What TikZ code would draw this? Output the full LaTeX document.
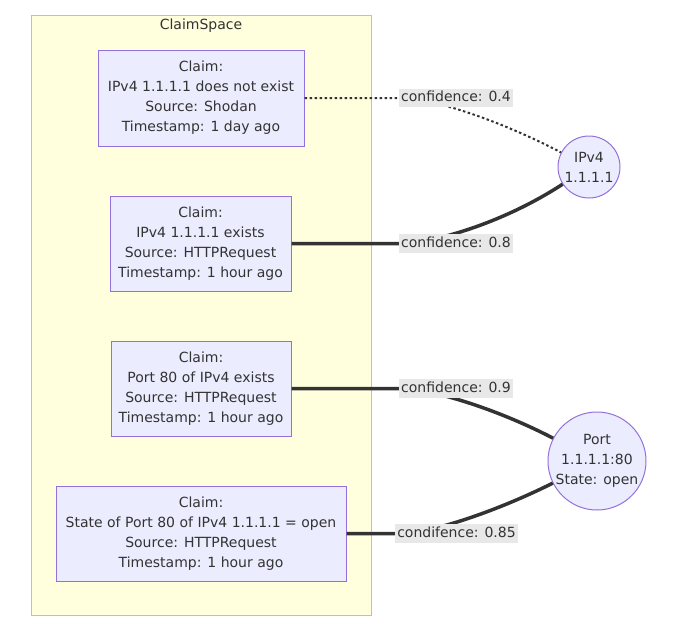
\documentclass[tikz,border=0pt]{standalone}
\usepackage{fontspec}
\setmainfont{DejaVu Sans}
\definecolor{boxfill}{HTML}{ECECFF}
\definecolor{boxline}{HTML}{9370DB}
\definecolor{clfill}{HTML}{FFFFDE}
\definecolor{clline}{HTML}{C8C87A}
\definecolor{lblbg}{HTML}{E8E8E8}
\definecolor{ink}{HTML}{333333}
\tikzset{
  claimbox/.style={draw=boxline, fill=boxfill, line width=1pt, align=center, text=ink, inner sep=0pt},
  entity/.style={circle, draw=boxline, fill=boxfill, line width=1pt, align=center, text=ink, inner sep=0pt},
  cluster/.style={draw=clline, fill=clfill, line width=1pt, inner sep=0pt},
  elabel/.style={fill=lblbg, text=ink, inner xsep=2pt, inner ysep=2.5pt, text height=10.5pt, text depth=3pt},
  solidedge/.style={draw=ink, line width=3.5pt},
  dottededge/.style={draw=ink, line width=2pt, dash pattern=on 2.5pt off 2.5pt}
}
\begin{document}
\begin{tikzpicture}[x=1pt,y=-1pt,font=\fontsize{14}{20}\selectfont]
\useasboundingbox (0,0) rectangle (678,640);
\node[cluster, minimum width=340pt, minimum height=600pt] (cs) at (201,315) {};
\node[text=ink] (cstitle) at (201,26) {ClaimSpace};

\node[claimbox, minimum width=206pt, minimum height=96pt] (c1) at (201,98) {Claim:\\IPv4 1.1.1.1 does not exist\\Source: Shodan\\Timestamp: 1 day ago};
\node[claimbox, minimum width=181pt, minimum height=95pt] (c2) at (200.5,243.5) {Claim:\\IPv4 1.1.1.1 exists\\Source: HTTPRequest\\Timestamp: 1 hour ago};
\node[claimbox, minimum width=180pt, minimum height=95pt] (c3) at (201,388.5) {Claim:\\Port 80 of IPv4 exists\\Source: HTTPRequest\\Timestamp: 1 hour ago};
\node[claimbox, minimum width=290pt, minimum height=95pt] (c4) at (201,533.5) {Claim:\\State of Port 80 of IPv4 1.1.1.1 = open\\Source: HTTPRequest\\Timestamp: 1 hour ago};

\node[entity, minimum size=62pt] (ip) at (589,167) {IPv4\\1.1.1.1};
\node[entity, minimum size=98pt] (port) at (597,461) {Port\\1.1.1.1:80\\State: open};

\coordinate (k1) at (400,98);
\coordinate (k2) at (400,243.5);
\coordinate (k3) at (400,388.5);
\coordinate (k4) at (400,533.5);

\draw[dottededge] (c1.east) -- (k1) .. controls (430,98) and (495,118) .. (ip);
\draw[solidedge] (c2.east) -- (k2) .. controls (430,243.5) and (500,225) .. (ip);
\draw[solidedge] (c3.east) -- (k3) .. controls (430,388.5) and (495,408) .. (port);
\draw[solidedge] (c4.east) -- (k4) .. controls (430,533.5) and (495,512) .. (port);

\node[elabel] (l1) at (456,98) {confidence: 0.4};
\node[elabel] (l2) at (456,243.5) {confidence: 0.8};
\node[elabel] (l3) at (456,388.5) {confidence: 0.9};
\node[elabel] (l4) at (456.5,533.5) {condifence: 0.85};
\end{tikzpicture}
\end{document}
